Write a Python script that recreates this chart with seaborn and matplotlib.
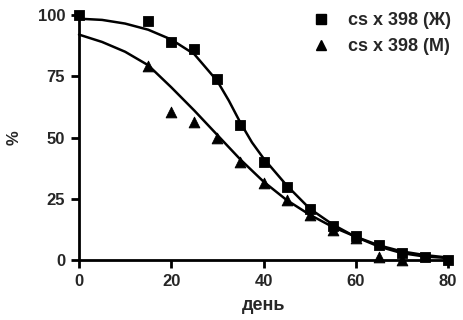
import matplotlib
matplotlib.use("Agg")
import matplotlib.pyplot as plt
import seaborn as sns
import pandas as pd
from matplotlib.lines import Line2D

# ---- data ----
days_f = [0, 15, 20, 25, 30, 35, 40, 45, 50, 55, 60, 65, 70, 75, 80]
pct_f = [100, 97.5, 89, 86, 74, 55, 40, 30, 21, 14, 10, 6, 3, 1.3, 0]

days_m = [15, 20, 25, 30, 35, 40, 45, 50, 55, 60, 65, 70]
pct_m = [79, 60.5, 56.5, 49.7, 40, 31.3, 24.5, 18.4, 12.2, 9, 1.3, 0]

curve_days = [0, 5, 10, 15, 20, 25, 30, 32.5, 35, 37.5, 40, 45, 50, 55, 60, 65, 70, 75, 80]
curve_f = [98.5, 98, 96.5, 94, 90, 84, 73, 65, 56, 48, 41.5, 30.5, 21, 14.5, 9.4, 5.5, 2.8, 1.4, 0.8]
curve_m = [92, 89, 85, 79.5, 70.5, 61, 51, 46, 41, 36.5, 32, 24.5, 18.5, 13.5, 9.5, 6, 3.5, 2, 1]

labels = ["cs x 398 (Ж)", "cs x 398 (М)"]
x_ticks = [0, 20, 40, 60, 80]
y_ticks = [0, 25, 50, 75, 100]
x_label = "день"
y_label = "%"

sns.set_style("white")
plt.rcParams["font.family"] = ["Liberation Sans", "DejaVu Sans"]

fig = plt.figure(figsize=(4.63, 3.2), dpi=100)
ax = fig.add_axes([79 / 463, 1 - 260 / 320, (448 - 79) / 463, (260 - 15) / 320])

df_cf = pd.DataFrame({"x": curve_days, "y": curve_f})
df_cm = pd.DataFrame({"x": curve_days, "y": curve_m})
sns.lineplot(data=df_cf, x="x", y="y", ax=ax, color="black", linewidth=1.8, clip_on=False)
sns.lineplot(data=df_cm, x="x", y="y", ax=ax, color="black", linewidth=1.8, clip_on=False)

df_f = pd.DataFrame({"x": days_f, "y": pct_f})
df_m = pd.DataFrame({"x": days_m, "y": pct_m})
sns.scatterplot(data=df_f, x="x", y="y", ax=ax, marker="s", s=55, color="black",
                edgecolor="black", clip_on=False, zorder=5)
sns.scatterplot(data=df_m, x="x", y="y", ax=ax, marker="^", s=60, color="black",
                edgecolor="black", clip_on=False, zorder=5)

ax.set_xlim(0, 80)
ax.set_ylim(0, 100)
ax.set_xticks(x_ticks)
ax.set_yticks(y_ticks)
for s in ["top", "right"]:
    ax.spines[s].set_visible(False)
for s in ["left", "bottom"]:
    ax.spines[s].set_linewidth(2)
    ax.spines[s].set_color("black")
ax.tick_params(axis="both", direction="out", length=6, width=2, color="black",
               labelsize=12, pad=4, left=True, bottom=True)
for t in ax.get_xticklabels() + ax.get_yticklabels():
    t.set_fontweight("bold")
ax.set_xlabel(x_label, fontsize=13, fontweight="bold", labelpad=6)
ax.set_ylabel(y_label, fontsize=12, fontweight="bold")
ax.yaxis.set_label_coords((22 - 79) / 369, 0.5)

handles = [
    Line2D([], [], marker="s", color="black", linestyle="none", markersize=7),
    Line2D([], [], marker="^", color="black", linestyle="none", markersize=7),
]
fig.legend(handles, labels, loc="upper right", bbox_to_anchor=(0.998, 0.995),
           frameon=False, prop={"weight": "bold", "size": 13},
           handletextpad=1.0, labelspacing=0.5, handlelength=1.0, borderaxespad=0.2)

fig.savefig("out.png", dpi=100)
